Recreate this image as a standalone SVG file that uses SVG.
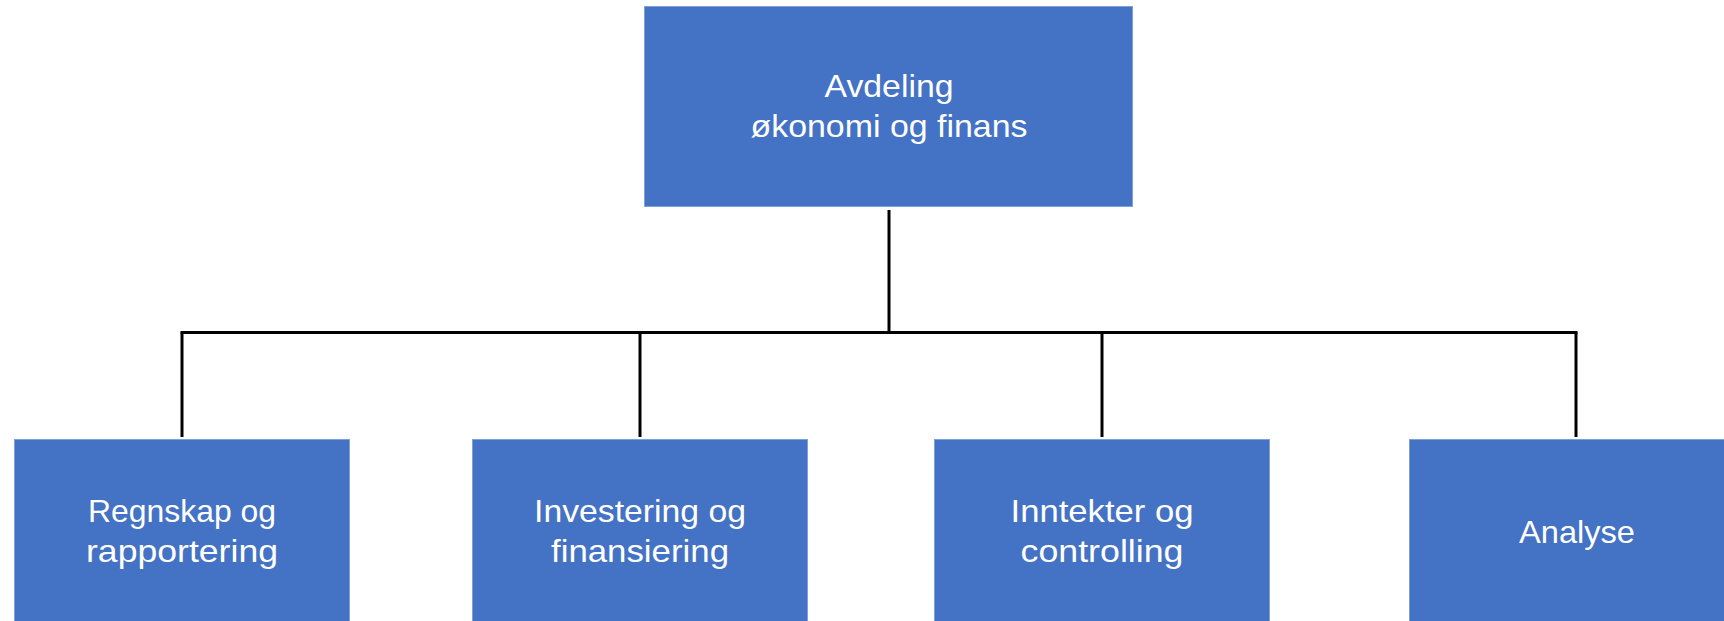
<svg xmlns="http://www.w3.org/2000/svg" width="1724" height="621" viewBox="0 0 1724 621">
<style>
.box{fill:#4472C4;stroke:#7F9FD8;stroke-width:1}
.lbl{fill:#FFFFFF;font-family:"Liberation Sans",Arial,sans-serif;font-size:32px;text-anchor:middle}
.conn{fill:none;stroke:#000000;stroke-width:3;stroke-linecap:butt}
</style>
<rect width="1724" height="621" fill="#FFFFFF"/>
<g id="connectors">
<path class="conn" d="M889 210 V332.5"/>
<path class="conn" d="M180.5 332.5 H1577.5"/>
<path class="conn" d="M182 332.5 V437"/>
<path class="conn" d="M640 332.5 V437"/>
<path class="conn" d="M1102 332.5 V437"/>
<path class="conn" d="M1576 332.5 V437"/>
</g>
<g id="node-top">
<rect class="box" x="644.5" y="6.5" width="488" height="200"/>
<text class="lbl" x="889" y="97" textLength="129" lengthAdjust="spacingAndGlyphs">Avdeling</text>
<text class="lbl" x="889" y="137" textLength="277" lengthAdjust="spacingAndGlyphs">økonomi og finans</text>
</g>
<g id="node-regnskap">
<rect class="box" x="14.5" y="439.5" width="335" height="190"/>
<text class="lbl" x="182" y="522" textLength="188" lengthAdjust="spacingAndGlyphs">Regnskap og</text>
<text class="lbl" x="182" y="562" textLength="192" lengthAdjust="spacingAndGlyphs">rapportering</text>
</g>
<g id="node-investering">
<rect class="box" x="472.5" y="439.5" width="335" height="190"/>
<text class="lbl" x="640" y="522" textLength="212" lengthAdjust="spacingAndGlyphs">Investering og</text>
<text class="lbl" x="640" y="562" textLength="178" lengthAdjust="spacingAndGlyphs">finansiering</text>
</g>
<g id="node-inntekter">
<rect class="box" x="934.5" y="439.5" width="335" height="190"/>
<text class="lbl" x="1102" y="522" textLength="183" lengthAdjust="spacingAndGlyphs">Inntekter og</text>
<text class="lbl" x="1102" y="562" textLength="163" lengthAdjust="spacingAndGlyphs">controlling</text>
</g>
<g id="node-analyse">
<rect class="box" x="1409.5" y="439.5" width="335" height="190"/>
<text class="lbl" x="1577" y="543" textLength="116" lengthAdjust="spacingAndGlyphs">Analyse</text>
</g>
</svg>
